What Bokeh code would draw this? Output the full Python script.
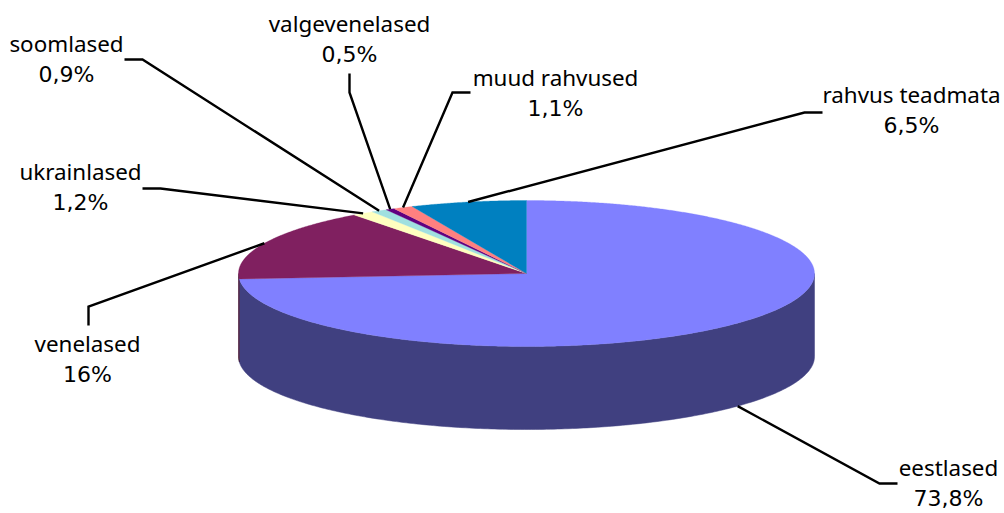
import numpy as np
from bokeh.plotting import figure
from bokeh.models import Range1d
from bokeh.core.properties import value
from bokeh.embed import file_html
from bokeh.resources import INLINE

categories = ["eestlased", "venelased", "ukrainlased", "soomlased", "valgevenelased", "muud rahvused", "rahvus teadmata"]
shares = [73.8, 16, 1.2, 0.9, 0.5, 1.1, 6.5]
share_labels = ["73,8%", "16%", "1,2%", "0,9%", "0,5%", "1,1%", "6,5%"]
top_colors = ["#8080FF", "#802060", "#FFFFC0", "#A0E0E0", "#600080", "#FF8080", "#0080C0"]
side_colors = ["#404080", "#401030", "#808060", "#507070", "#300040", "#804040", "#004060"]

# layout, in picture pixels
W, H = 1004, 513
CX, CY, RX, RY, DEPTH = 526, 273, 288, 73, 83
NAME_FONT, NAME_FS = "Noto Sans", "22.4px"
PCT_FONT, PCT_FS = "DejaVu Sans", "22px"
elbows = [(879, 483), (88, 306), (160, 188), (142, 59), (349, 92), (452, 92), (804, 112)]
tails = [(897, 483), (88, 325), (142, 188), (124, 59), (349, 73), (470, 92), (822, 112)]
label_centers = [(948, 467), (87, 343), (80, 171), (66, 43), (349, 23), (555, 77), (911, 94)]
LINE_GAP = 31

p = figure(width=W, height=H, output_backend="svg", toolbar_location=None,
           x_range=Range1d(0, W), y_range=Range1d(H, 0),
           min_border=0, outline_line_color=None, background_fill_color="white",
           border_fill_color="white")
p.axis.visible = False
p.grid.visible = False


def rim(a, depth=0.0):
    """a: clockwise degrees from the top of the ellipse."""
    r = np.radians(a)
    return CX + RX * np.sin(r), CY - RY * np.cos(r) + depth


edges = np.concatenate([[0], np.cumsum(shares)]) * 3.6

# side walls (only the front half of the rim is visible: 90..270 deg clockwise)
for i in range(len(shares)):
    a0, a1 = max(edges[i], 90), min(edges[i + 1], 270)
    if a1 <= a0:
        continue
    t = np.linspace(a0, a1, 240)
    xt, yt = rim(t)
    xb, yb = rim(t[::-1], DEPTH)
    p.patch(np.concatenate([xt, xb]), np.concatenate([yt, yb]),
            fill_color=side_colors[i], line_color=side_colors[i], line_width=0.5)

# top faces
for i in range(len(shares)):
    t = np.linspace(edges[i], edges[i + 1], max(8, int(edges[i + 1] - edges[i]) * 3))
    x, y = rim(t)
    p.patch(np.concatenate([[CX], x]), np.concatenate([[CY], y]),
            fill_color=top_colors[i], line_color=top_colors[i], line_width=0.3)

# leader lines and labels
for i, name in enumerate(categories):
    mid = (edges[i] + edges[i + 1]) / 2
    sx, sy = rim(mid, DEPTH if 90 < mid < 270 else 0)
    p.line([sx, elbows[i][0], tails[i][0]], [sy, elbows[i][1], tails[i][1]],
           line_color="black", line_width=2.4, line_join="miter")
    lx, ly = label_centers[i]
    p.text([lx], [ly], text=[name],
           text_font=value(NAME_FONT), text_font_size=NAME_FS, text_color="black",
           text_align="center", text_baseline="middle")
    p.text([lx], [ly + LINE_GAP], text=[share_labels[i]],
           text_font=value(PCT_FONT), text_font_size=PCT_FS, text_color="black",
           text_align="center", text_baseline="middle")

open("out.html", "w").write(file_html(p, INLINE))
